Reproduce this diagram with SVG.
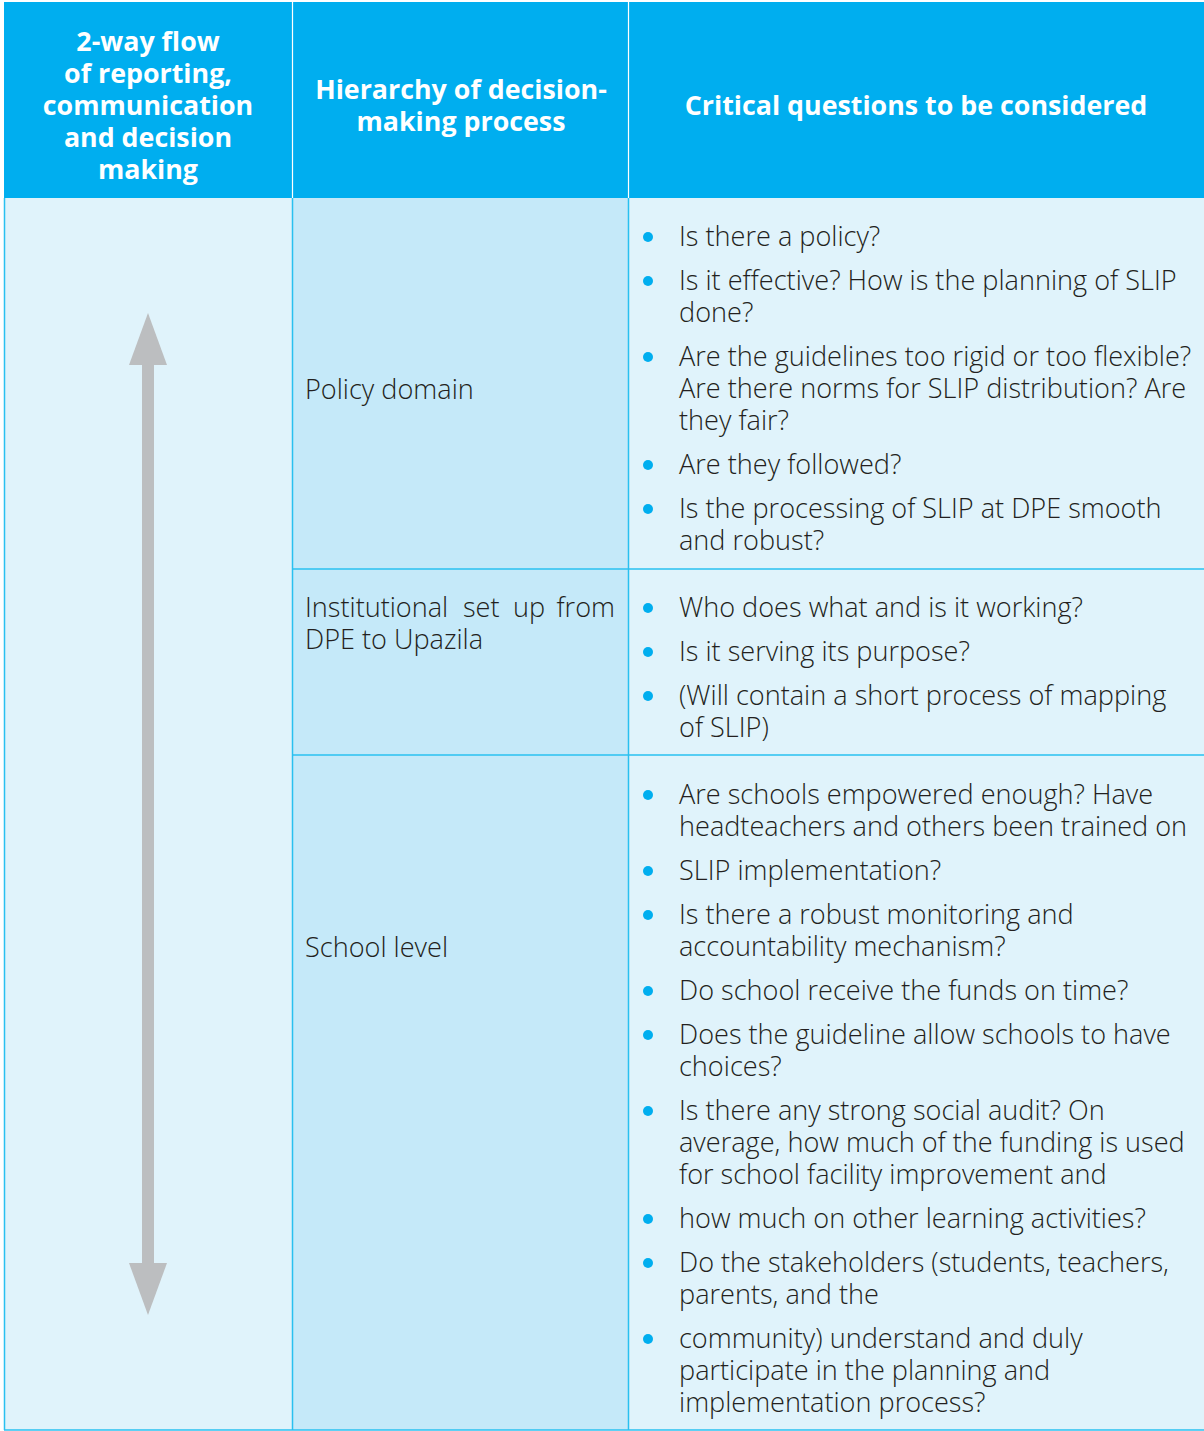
<svg xmlns="http://www.w3.org/2000/svg" width="1204" height="1431" viewBox="0 0 1204 1431">
<style>
.hd{font-family:"Open Sans","Noto Sans","Liberation Sans",sans-serif;font-weight:700;font-size:26.8px;fill:#ffffff;text-anchor:middle}
.tx{font-family:"Open Sans","Noto Sans","Liberation Sans",sans-serif;font-weight:300;font-size:27.1px;fill:#231f20}
.bl{fill:#00aeef}
.ln{stroke:#29c0f0;stroke-width:1.5;fill:none}
</style>
<defs>
<circle id="b" r="5" class="bl"/>
</defs>
<rect x="0" y="0" width="1204" height="1431" fill="#ffffff"/>
<g id="header">
<rect x="4" y="2" width="1200" height="196" fill="#00aeef"/>
<line x1="292.5" y1="2" x2="292.5" y2="198" stroke="#ffffff" stroke-width="1.2"/>
<line x1="628.5" y1="2" x2="628.5" y2="198" stroke="#ffffff" stroke-width="1.2"/>
<text class="hd" x="148" y="51">2-way flow</text>
<text class="hd" x="148" y="83">of reporting,</text>
<text class="hd" x="148" y="115">communication</text>
<text class="hd" x="148" y="147">and decision</text>
<text class="hd" x="148" y="179">making</text>
<text class="hd" x="461" y="99">Hierarchy of decision-</text>
<text class="hd" x="461" y="131">making process</text>
<text class="hd" x="916" y="115">Critical questions to be considered</text>
</g>
<g id="body-bg">
<rect x="4" y="198" width="288.5" height="1232" fill="#e0f3fb"/>
<rect x="292.5" y="198" width="336" height="1232" fill="#c5e9f9"/>
<rect x="628.5" y="198" width="576" height="1232" fill="#e0f3fb"/>
</g>
<g id="grid">
<line class="ln" x1="4.5" y1="198" x2="4.5" y2="1430"/>
<line class="ln" x1="292.5" y1="198" x2="292.5" y2="1430"/>
<line class="ln" x1="628.5" y1="198" x2="628.5" y2="1430"/>
<line class="ln" x1="292.5" y1="569" x2="1204" y2="569"/>
<line class="ln" x1="292.5" y1="755" x2="1204" y2="755"/>
<line class="ln" x1="4" y1="1430" x2="1204" y2="1430"/>
</g>
<g id="arrow">
<rect x="142" y="360" width="12" height="908" fill="#bcbec0"/>
<polygon points="148,313 167,365 129,365" fill="#bcbec0"/>
<polygon points="148,1315 167,1263 129,1263" fill="#bcbec0"/>
</g>
<g id="row-policy">
<text class="tx" x="305" y="399">Policy domain</text>
<use href="#b" x="648" y="237"/><text class="tx" x="679" y="246">Is there a policy?</text>
<use href="#b" x="648" y="281"/><text class="tx" x="679" y="290">Is it effective? How is the planning of SLIP</text>
<text class="tx" x="679" y="322">done?</text>
<use href="#b" x="648" y="357"/><text class="tx" x="679" y="366">Are the guidelines too rigid or too flexible?</text>
<text class="tx" x="679" y="398">Are there norms for SLIP distribution? Are</text>
<text class="tx" x="679" y="430">they fair?</text>
<use href="#b" x="648" y="465"/><text class="tx" x="679" y="474">Are they followed?</text>
<use href="#b" x="648" y="509"/><text class="tx" x="679" y="518">Is the processing of SLIP at DPE smooth</text>
<text class="tx" x="679" y="550">and robust?</text>
</g>
<g id="row-institutional">
<text class="tx" x="305" y="617">Institutional</text>
<text class="tx" x="463" y="617">set</text>
<text class="tx" x="513" y="617">up</text>
<text class="tx" x="615" y="617" text-anchor="end">from</text>
<text class="tx" x="305" y="649">DPE to Upazila</text>
<use href="#b" x="648" y="608"/><text class="tx" x="679" y="617">Who does what and is it working?</text>
<use href="#b" x="648" y="652"/><text class="tx" x="679" y="661">Is it serving its purpose?</text>
<use href="#b" x="648" y="696"/><text class="tx" x="679" y="705">(Will contain a short process of mapping</text>
<text class="tx" x="679" y="737">of SLIP)</text>
</g>
<g id="row-school">
<text class="tx" x="305" y="957">School level</text>
<use href="#b" x="648" y="795"/><text class="tx" x="679" y="804">Are schools empowered enough? Have</text>
<text class="tx" x="679" y="836">headteachers and others been trained on</text>
<use href="#b" x="648" y="871"/><text class="tx" x="679" y="880">SLIP implementation?</text>
<use href="#b" x="648" y="915"/><text class="tx" x="679" y="924">Is there a robust monitoring and</text>
<text class="tx" x="679" y="956">accountability mechanism?</text>
<use href="#b" x="648" y="991"/><text class="tx" x="679" y="1000">Do school receive the funds on time?</text>
<use href="#b" x="648" y="1035"/><text class="tx" x="679" y="1044">Does the guideline allow schools to have</text>
<text class="tx" x="679" y="1076">choices?</text>
<use href="#b" x="648" y="1111"/><text class="tx" x="679" y="1120">Is there any strong social audit? On</text>
<text class="tx" x="679" y="1152">average, how much of the funding is used</text>
<text class="tx" x="679" y="1184">for school facility improvement and</text>
<use href="#b" x="648" y="1219"/><text class="tx" x="679" y="1228">how much on other learning activities?</text>
<use href="#b" x="648" y="1263"/><text class="tx" x="679" y="1272">Do the stakeholders (students, teachers,</text>
<text class="tx" x="679" y="1304">parents, and the</text>
<use href="#b" x="648" y="1339"/><text class="tx" x="679" y="1348">community) understand and duly</text>
<text class="tx" x="679" y="1380">participate in the planning and</text>
<text class="tx" x="679" y="1412">implementation process?</text>
</g>
</svg>
